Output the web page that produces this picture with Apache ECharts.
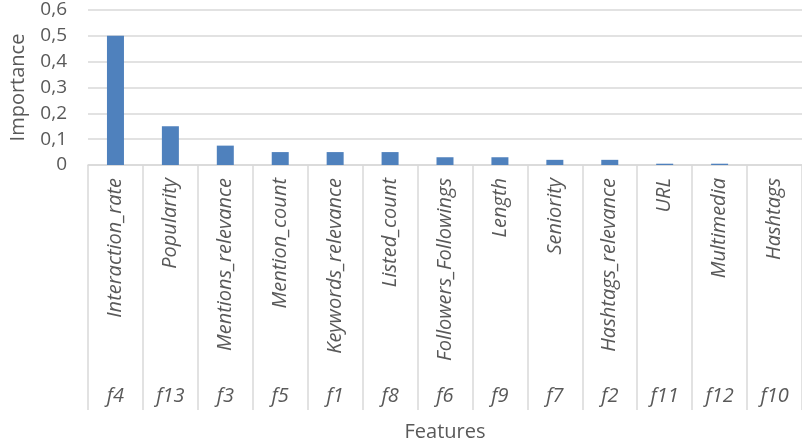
<!DOCTYPE html>
<html>
<head>
<meta charset="utf-8">
<script src="https://cdn.jsdelivr.net/npm/echarts@6/dist/echarts.min.js"></script>
<style>
  html, body { margin: 0; padding: 0; background: #fff; }
  #chart { width: 802px; height: 448px; }
</style>
</head>
<body>
<div id="chart"></div>
<script>
// Feature names, their codes, and importance scores
const featureNames = ['Interaction_rate', 'Popularity', 'Mentions_relevance', 'Mention_count',
  'Keywords_relevance', 'Listed_count', 'Followers_Followings', 'Length', 'Seniority',
  'Hashtags_relevance', 'URL', 'Multimedia', 'Hashtags'];
const featureCodes = ['f4', 'f13', 'f3', 'f5', 'f1', 'f8', 'f6', 'f9', 'f7', 'f2', 'f11', 'f12', 'f10'];
const importance = [0.5, 0.15, 0.075, 0.05, 0.05, 0.05, 0.03, 0.03, 0.02, 0.02, 0.005, 0.005, 0];
const yTicks = { min: 0, max: 0.6, step: 0.1 };

const textColor = '#595959';
const lineColor = '#d9d9d9';
const fontFamily = '"Open Sans", "Liberation Sans", sans-serif';

const chart = echarts.init(document.getElementById('chart'));
chart.setOption({
  animation: false,
  textStyle: { fontFamily },
  grid: { left: 88, top: 10, bottom: 283, right: -10, containLabel: false },
  xAxis: [
    {
      type: 'category',
      data: featureNames,
      position: 'bottom',
      name: 'Features',
      nameLocation: 'middle',
      nameGap: 257,
      nameTextStyle: { fontSize: 20, color: textColor, fontFamily },
      axisLine: { lineStyle: { color: lineColor, width: 1.5 } },
      axisTick: { show: false },
      axisLabel: {
        rotate: 90, interval: 0, margin: 13,
        fontSize: 20, fontStyle: 'italic', color: textColor, fontFamily
      }
    },
    {
      type: 'category',
      data: featureCodes,
      position: 'bottom',
      axisLine: { show: false },
      axisTick: { show: true, length: 245, lineStyle: { color: lineColor, width: 1.5 } },
      axisLabel: {
        interval: 0, margin: 221,
        fontSize: 20, fontStyle: 'italic', color: textColor, fontFamily
      },
      splitLine: { show: false }
    }
  ],
  yAxis: {
    type: 'value',
    min: yTicks.min, max: yTicks.max, interval: yTicks.step,
    name: 'Importance',
    nameLocation: 'middle',
    nameGap: 60,
    nameTextStyle: { fontSize: 20, color: textColor, fontFamily },
    axisLine: { show: false },
    axisTick: { show: false },
    axisLabel: {
      fontSize: 19, color: textColor, margin: 21, fontFamily,
      formatter: v => (Math.round(v * 10) / 10).toString().replace('.', ',')
    },
    splitLine: { lineStyle: { color: lineColor, width: 1.5 } }
  },
  series: [{
    type: 'bar',
    xAxisIndex: 0,
    data: importance,
    barWidth: 17,
    itemStyle: { color: '#4f81bd' }
  }]
});
</script>
</body>
</html>
